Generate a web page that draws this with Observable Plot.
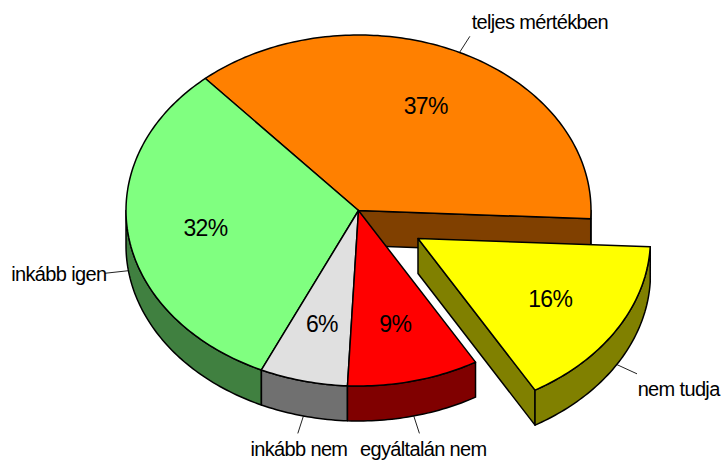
<!DOCTYPE html>
<html><head><meta charset="utf-8">
<script src="https://cdn.jsdelivr.net/npm/d3@7"></script>
<script src="https://cdn.jsdelivr.net/npm/@observablehq/plot@0.6"></script>
<style>html,body{margin:0;padding:0;background:#fff}svg{display:block}</style>
</head><body><div id="chart"></div>
<script>
// Data, clockwise from the top-left edge of the orange slice
const categories = ["teljes mértékben", "nem tudja", "egyáltalán nem", "inkább nem", "inkább igen"];
const values = [37.2, 15.85, 9.15, 6.1, 31.7];
const percentLabels = ["37%", "16%", "9%", "6%", "32%"];
const topColors = ["#ff8000", "#ffff00", "#ff0000", "#e0e0e0", "#80ff80"];
const sideColors = ["#804000", "#808000", "#800000", "#707070", "#408040"];

// Layout of the tilted pie, in pie units (radius = 1)
const width = 722, height = 466;
const rx = 232.5, ry = 175.5, cx = 358, cy = 210;
const depth = 35 / ry;
const startAngle = -41.2;
const explodedIndex = 1, explodeX = 59.5 / rx, explodeY = -28 / ry;
const labelRadius = 0.665, leaderRadius = 1.1;
const labelPlacement = [
  {textAnchor: "start", dx: 2, dy: -14},
  {textAnchor: "start", dx: 1, dy: 16},
  {textAnchor: "middle", dx: 4, dy: 17},
  {textAnchor: "middle", dx: 1, dy: 17},
  {textAnchor: "end", dx: 1, dy: 1}
];
const labelFont = 20, percentFont = 23, tracking = "-0.65px";

const total = d3.sum(values);
let running = startAngle;
const slices = categories.map((category, i) => {
  const a0 = running, a1 = running + values[i] / total * 360;
  running = a1;
  const ox = i === explodedIndex ? explodeX : 0, oy = i === explodedIndex ? explodeY : 0;
  return {category, i, a0, a1, mid: (a0 + a1) / 2, ox, oy};
});
const pt = (s, deg, r = 1, drop = 0) => {
  const t = deg * Math.PI / 180;
  return {x: s.ox + r * Math.sin(t), y: s.oy + r * Math.cos(t) - drop};
};
const arc = (s, a0, a1, drop = 0) => {
  const n = Math.max(1, Math.ceil(Math.abs(a1 - a0)));
  return d3.range(n + 1).map(k => pt(s, a0 + (a1 - a0) * k / n, 1, drop));
};
const shape = (pts, fill) => Plot.line(pts, {x: "x", y: "y", fill, stroke: "#000", strokeWidth: 1.5, curve: "linear-closed", strokeLinejoin: "round"});
const topFace = s => shape([pt(s, 0, 0), ...arc(s, s.a0, s.a1)], topColors[s.i]);
const rim = s => {
  const a0 = Math.max(s.a0, 90), a1 = Math.min(s.a1, 270);
  return shape([...arc(s, a0, a1), ...arc(s, a1, a0, depth)], sideColors[s.i]);
};
const cutFace = (s, deg) => shape([pt(s, 0, 0), pt(s, deg), pt(s, deg, 1, depth), pt(s, 0, 0, depth)], sideColors[s.i]);

const [orange, yellow, red, grey, green] = slices;
const leaders = slices.flatMap(s => {
  const a = pt(s, s.mid, 1, s.i === 0 ? 0 : depth), b = pt(s, s.mid, leaderRadius, s.i === 0 ? 0 : depth);
  return [{...a, z: s.i}, {...b, z: s.i}];
});
const ends = slices.map(s => ({...pt(s, s.mid, leaderRadius, s.i === 0 ? 0 : depth), name: s.category}));
const pctPoints = slices.map((s, i) => ({...pt(s, s.mid, labelRadius), label: percentLabels[i]}));

const chart = Plot.plot({
  width, height, margin: 0,
  style: {fontFamily: "'Liberation Sans', Arial, sans-serif", background: "#fff", color: "#000", letterSpacing: tracking},
  x: {domain: [-cx / rx, (width - cx) / rx], range: [0, width], axis: null},
  y: {domain: [(cy - height) / ry, cy / ry], range: [height, 0], axis: null},
  marks: [
    Plot.line(leaders, {x: "x", y: "y", z: "z", stroke: "#222", strokeWidth: 1}),
    rim(orange),
    cutFace(orange, orange.a1),
    rim(green), rim(grey), rim(red),
    topFace(orange), topFace(green), topFace(grey), topFace(red),
    cutFace(yellow, yellow.a1), rim(yellow), topFace(yellow),
    Plot.text(pctPoints, {x: "x", y: "y", text: "label", fontSize: percentFont, fill: "#000", dy: 1}),
    ...ends.map((e, i) => Plot.text([e], {x: "x", y: "y", text: "name", fontSize: labelFont, fill: "#000", ...labelPlacement[i]}))
  ]
});
document.getElementById("chart").append(chart);
</script></body></html>
